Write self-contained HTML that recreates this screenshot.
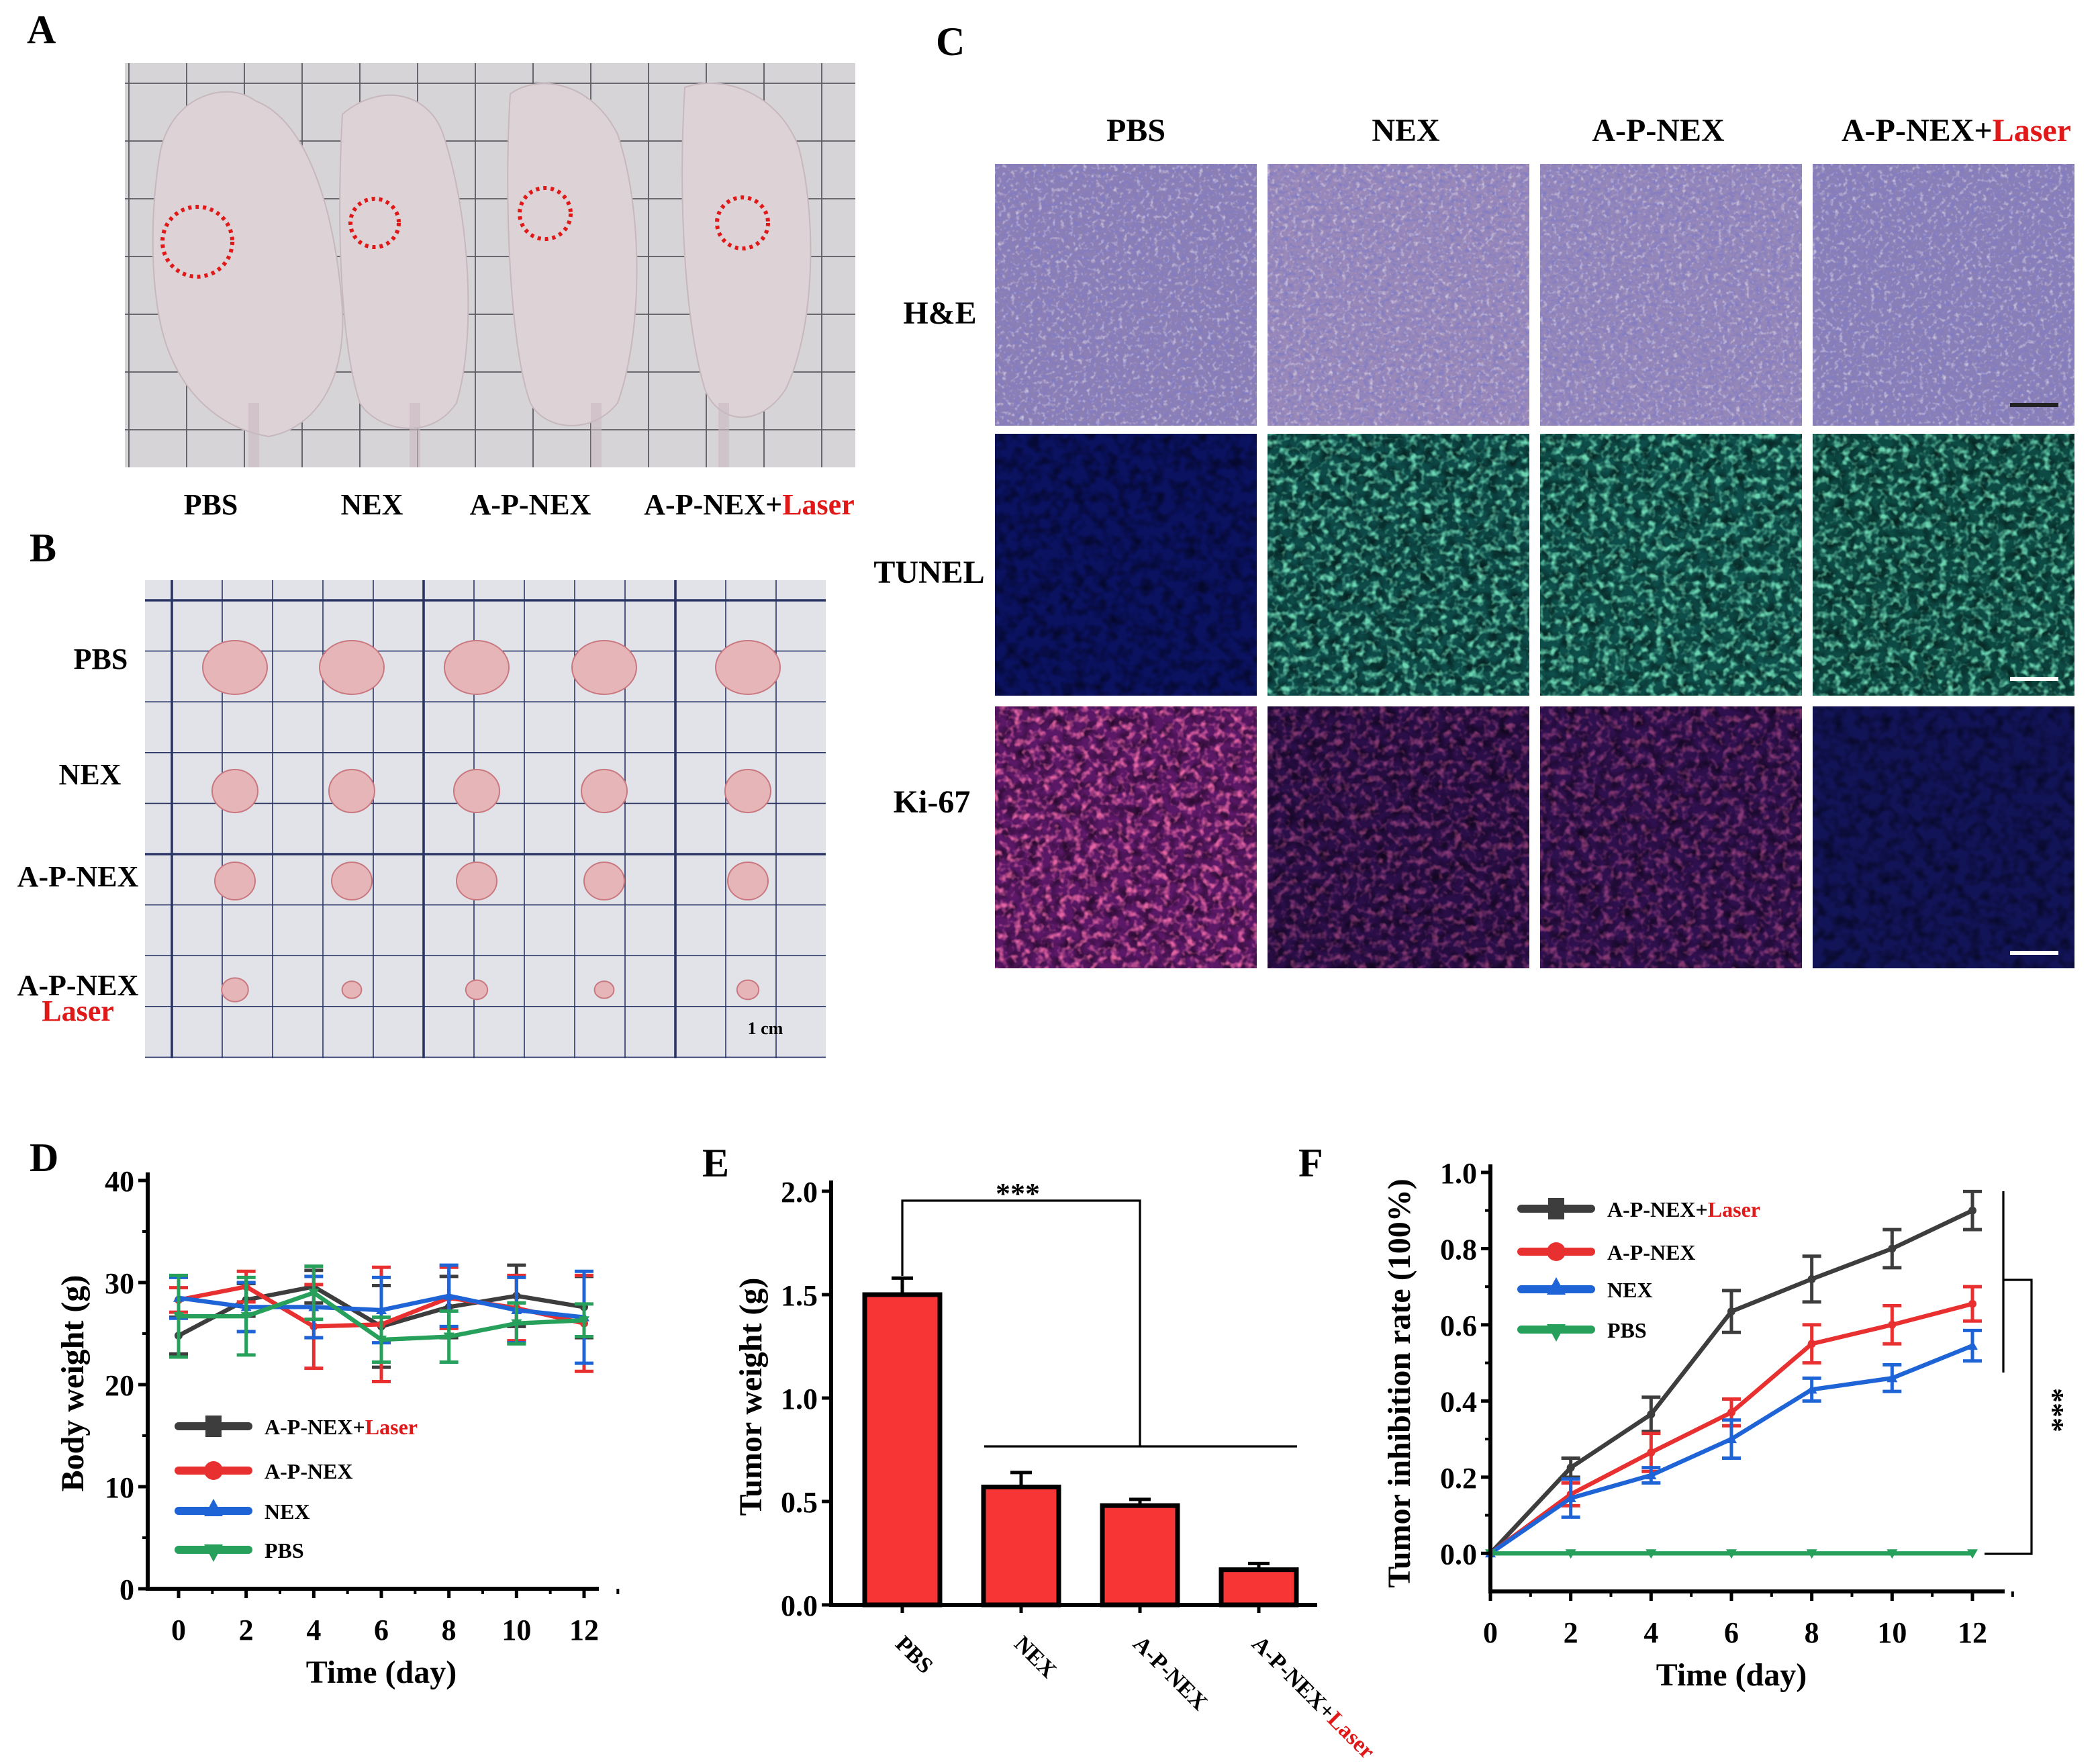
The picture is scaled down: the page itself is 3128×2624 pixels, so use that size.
<!DOCTYPE html>
<html><head><meta charset="utf-8"><style>
html,body{margin:0;padding:0;background:#fff;}
svg{display:block;}
text{font-family:"Liberation Serif",serif;font-weight:bold;}
</style></head><body>
<svg id="fig" width="3128" height="2624" viewBox="0 0 1564 1312" xmlns="http://www.w3.org/2000/svg">
<defs>
<filter id="nHE" x="0" y="0" width="100%" height="100%"><feTurbulence type="fractalNoise" baseFrequency="0.25 0.35" numOctaves="2" seed="3"/><feColorMatrix values="0 0 0 0 0.22  0 0 0 0 0.2  0 0 0 0 0.55  2.2 0 0 0 -0.85"/></filter>
<filter id="nHEl" x="0" y="0" width="100%" height="100%"><feTurbulence type="fractalNoise" baseFrequency="0.3" numOctaves="2" seed="9"/><feColorMatrix values="0 0 0 0 0.9  0 0 0 0 0.85  0 0 0 0 0.9  2.5 0 0 0 -1.35"/></filter>
<filter id="nDot" x="0" y="0" width="100%" height="100%"><feTurbulence type="fractalNoise" baseFrequency="0.12" numOctaves="2" seed="7"/><feColorMatrix values="0 0 0 0 0  0 0 0 0 0  0 0 0 0 0  2 0 0 0 -0.8"/></filter>
<filter id="nGreen" x="0" y="0" width="100%" height="100%"><feTurbulence type="fractalNoise" baseFrequency="0.18" numOctaves="2" seed="11"/><feColorMatrix values="0 0 0 0 0.2  0 0 0 0 0.85  0 0 0 0 0.55  3 0 0 0 -1.4"/></filter>
<filter id="nRed" x="0" y="0" width="100%" height="100%"><feTurbulence type="fractalNoise" baseFrequency="0.18" numOctaves="2" seed="5"/><feColorMatrix values="0 0 0 0 0.9  0 0 0 0 0.15  0 0 0 0 0.4  3 0 0 0 -1.4"/></filter>
</defs>

<text x="20" y="32" font-size="30">A</text>
<text x="22" y="418" font-size="30">B</text>
<text x="697" y="41" font-size="30">C</text>
<text x="22" y="872" font-size="30">D</text>
<text x="523" y="876" font-size="30">E</text>
<text x="967" y="876" font-size="30">F</text>

<g>
<rect x="93" y="47" width="544" height="301" fill="#d6d4d6"/>
<g id="gridA" stroke="#5a5a62" stroke-width="0.9"></g>
<g fill="#ddd2d6" stroke="#c6b8bd" stroke-width="1">
<path d="M120,110 C130,70 170,60 190,75 C230,90 250,160 255,230 C258,290 230,320 200,325 C170,320 140,300 125,260 C110,220 112,150 120,110Z"/>
<path d="M255,85 C285,60 320,70 330,100 C350,160 355,250 340,300 C320,330 280,320 268,300 C255,260 250,180 255,85Z"/>
<path d="M380,70 C400,55 440,60 460,100 C480,160 478,250 460,300 C440,325 405,320 395,300 C380,260 375,150 380,70Z"/>
<path d="M510,65 C540,55 580,70 595,110 C610,170 605,250 585,290 C565,320 535,315 525,290 C510,240 505,150 510,65Z"/>
</g>
<g fill="#c9b9bf" opacity="0.6">
<rect x="185" y="300" width="8" height="48"/><rect x="305" y="300" width="8" height="48"/><rect x="440" y="300" width="8" height="48"/><rect x="535" y="300" width="8" height="48"/>
</g>
<g fill="none" stroke="#e01818" stroke-width="3" stroke-dasharray="2.5 3">
<circle cx="147" cy="180" r="26"/><circle cx="279" cy="166" r="18"/><circle cx="406" cy="159" r="19"/><circle cx="553" cy="166" r="19"/>
</g>
</g>
<g font-size="22" text-anchor="middle">
<text x="157" y="383">PBS</text>
<text x="277" y="383">NEX</text>
<text x="395" y="383">A-P-NEX</text>
<text x="558" y="383">A-P-NEX+<tspan fill="#e01818">Laser</tspan></text>
</g>

<g>
<rect x="108" y="432" width="507" height="356" fill="#e2e3e8"/>
<g id="gridB" stroke="#2a3566"></g>
<g id="tumors" fill="#e6b5b8" stroke="#c97880" stroke-width="1"></g>
<text x="570" y="770" font-size="13" text-anchor="middle">1 cm</text>
</g>
<g font-size="22" text-anchor="middle">
<text x="75" y="498">PBS</text>
<text x="67" y="584">NEX</text>
<text x="58" y="660">A-P-NEX</text>
<text x="58" y="741">A-P-NEX</text>
<text x="58" y="760" fill="#e01818">Laser</text>
</g>

<g font-size="24" text-anchor="middle">
<text x="846" y="105">PBS</text>
<text x="1047" y="105">NEX</text>
<text x="1235" y="105">A-P-NEX</text>
<text x="1457" y="105">A-P-NEX+<tspan fill="#e01818">Laser</tspan></text>
<text x="700" y="241">H&amp;E</text>
<text x="692" y="434">TUNEL</text>
<text x="694" y="605">Ki-67</text>
</g>
<g id="micro"></g>

<g id="chartD"></g>
<g id="chartE"></g>
<g id="chartF"></g>
</svg>
<script>
// ---- Panel D data (body weight) ----
const dDays = [0, 2, 4, 6, 8, 10, 12];
const dLaser = [24.8, 28.3, 29.6, 25.7, 27.6, 28.7, 27.6];
const dLaserErr = [1.8, 1.6, 1.6, 4.0, 3.0, 3.0, 3.0];
const dApnex = [28.3, 29.6, 25.7, 25.9, 28.5, 27.5, 26.0];
const dApnexErr = [1.2, 1.5, 4.1, 5.6, 3.0, 3.2, 4.7];
const dNex = [28.5, 27.6, 27.6, 27.3, 28.7, 27.3, 26.6];
const dNexErr = [2.0, 2.4, 3.0, 3.2, 3.0, 3.2, 4.5];
const dPbs = [26.7, 26.7, 29.0, 24.4, 24.7, 26.0, 26.3];
const dPbsErr = [4.0, 3.8, 2.6, 2.2, 2.5, 2.0, 1.6];
const dYTicks = [0, 10, 20, 30, 40];
// ---- Panel E data (tumor weight) ----
const eGroups = ["PBS", "NEX", "A-P-NEX", "A-P-NEX+"];
const eValues = [1.50, 0.57, 0.48, 0.17];
const eErr = [0.08, 0.07, 0.03, 0.03];
const eYTicks = [0.0, 0.5, 1.0, 1.5, 2.0];
// ---- Panel F data (inhibition rate) ----
const fDays = [0, 2, 4, 6, 8, 10, 12];
const fLaser = [0, 0.225, 0.365, 0.635, 0.72, 0.80, 0.90];
const fLaserErr = [0, 0.025, 0.045, 0.055, 0.06, 0.05, 0.05];
const fApnex = [0, 0.155, 0.265, 0.37, 0.55, 0.60, 0.655];
const fApnexErr = [0, 0.03, 0.05, 0.035, 0.05, 0.05, 0.045];
const fNex = [0, 0.145, 0.205, 0.30, 0.43, 0.46, 0.545];
const fNexErr = [0, 0.05, 0.02, 0.05, 0.03, 0.035, 0.04];
const fPbs = [0, 0, 0, 0, 0, 0, 0];
const fYTicks = [0.0, 0.2, 0.4, 0.6, 0.8, 1.0];

const NS = "http://www.w3.org/2000/svg";
function mk(tag, attrs, parent) {
  const e = document.createElementNS(NS, tag);
  for (const k in attrs) e.setAttribute(k, attrs[k]);
  if (parent) parent.appendChild(e);
  return e;
}
const COL = {black:"#3d3d3d", red:"#e83030", blue:"#1f64d6", green:"#26a05a"};

(function(){
  const gA = document.getElementById('gridA');
  for (let x = 96; x < 637; x += 43) mk('line',{x1:x,y1:47,x2:x,y2:348},gA);
  for (let y = 62; y < 348; y += 43) mk('line',{x1:93,y1:y,x2:637,y2:y},gA);
  const gB = document.getElementById('gridB');
  let i = 0;
  for (let x = 128; x < 615; x += 37.5, i++) mk('line',{x1:x,y1:432,x2:x,y2:788,'stroke-width':(i%5===0)?1.8:0.8},gB);
  i = 0;
  for (let y = 447; y < 788; y += 37.8, i++) mk('line',{x1:108,y1:y,x2:615,y2:y,'stroke-width':(i%5===0||i===5)?1.8:0.8},gB);
  const tg = document.getElementById('tumors');
  const xs = [175, 262, 355, 450, 557];
  const rows = [[497, 24, 20],[589, 17, 16],[656, 15, 14],[737, 9, 8]];
  rows.forEach((r, ri) => xs.forEach((x, ci) => {
    const s = ri===3 ? [1.1,0.8,0.9,0.8,0.9][ci] : 1;
    mk('ellipse',{cx:x,cy:r[0],rx:r[1]*s,ry:r[2]*s},tg);
  }));
})();

(function(){
  const g = document.getElementById('micro');
  const cx = [741, 944, 1147, 1350], cy = [122, 323, 526], w = 195, h = 195;
  const he = ['#8c7fb4','#9a89b8','#9587b8','#8a80b6'];
  const tun = ['#0b1260','#0d4a48','#0e4e4a','#0d4a44'];
  const ki = ['#5a1866','#2a0e48','#2f104e','#121458'];
  cx.forEach((x, c) => {
    mk('rect',{x:x,y:cy[0],width:w,height:h,fill:he[c]},g);
    mk('rect',{x:x,y:cy[0],width:w,height:h,filter:'url(#nHE)'},g);
    mk('rect',{x:x,y:cy[0],width:w,height:h,filter:'url(#nHEl)',opacity:0.7},g);
    mk('rect',{x:x,y:cy[1],width:w,height:h,fill:tun[c]},g);
    mk('rect',{x:x,y:cy[1],width:w,height:h,filter:'url(#nDot)',opacity:0.6},g);
    if (c>0) mk('rect',{x:x,y:cy[1],width:w,height:h,filter:'url(#nGreen)',opacity:0.85},g);
    mk('rect',{x:x,y:cy[2],width:w,height:h,fill:ki[c]},g);
    mk('rect',{x:x,y:cy[2],width:w,height:h,filter:'url(#nDot)',opacity:0.6},g);
    if (c<3) mk('rect',{x:x,y:cy[2],width:w,height:h,filter:'url(#nRed)',opacity:c===0?0.9:0.45},g);
  });
  mk('rect',{x:1497,y:300,width:36,height:3,fill:'#222'},g);
  mk('rect',{x:1497,y:504,width:36,height:3,fill:'#fff'},g);
  mk('rect',{x:1497,y:708,width:36,height:3,fill:'#fff'},g);
})();

function lineChart(gid, days, series, opts) {
  const g = document.getElementById(gid);
  const xS = v => opts.x0 + (v - 0) / 12 * (opts.x12 - opts.x0);
  const yS = v => opts.yBot + (v - opts.yMin) / (opts.yMax - opts.yMin) * (opts.yTop - opts.yBot);
  series.forEach(s => {
    const sg = mk('g',{},g);
    
    
    days.forEach((d, i) => {
      if (!s.err[i]) return;
      const x = xS(d), y1 = yS(s.v[i] + s.err[i]), y2 = yS(s.v[i] - s.err[i]);
      mk('line',{x1:x,y1:y1,x2:x,y2:y2,stroke:s.c,'stroke-width':2.5},sg);
      mk('line',{x1:x-7,y1:y1,x2:x+7,y2:y1,stroke:s.c,'stroke-width':2.5},sg);
      mk('line',{x1:x-7,y1:y2,x2:x+7,y2:y2,stroke:s.c,'stroke-width':2.5},sg);
    });
    const pts = days.map((d, i) => xS(d) + ',' + yS(s.v[i])).join(' ');
    const pl = mk('polyline',{points:pts,fill:'none',stroke:s.c,'stroke-width':3.2},sg);
    
    
    days.forEach((d, i) => {
      const x = xS(d), y = yS(s.v[i]);
      if (s.m === 'tri') mk('path',{d:`M${x-4},${y+3}L${x+4},${y+3}L${x},${y-4}Z`,fill:s.c},sg);
      else if (s.m === 'inv') mk('path',{d:`M${x-4},${y-3}L${x+4},${y-3}L${x},${y+4}Z`,fill:s.c},sg);
      else mk('circle',{cx:x,cy:y,r:3,fill:s.c},sg);
    });
  });
  const ax = mk('g',{},g);
  
  
  mk('line',{x1:opts.axX,y1:yS(opts.yMax)-6,x2:opts.axX,y2:opts.yBot+1.5,stroke:'#000','stroke-width':3},ax);
  mk('line',{x1:opts.axX-1.5,y1:opts.yBot,x2:opts.xEnd,y2:opts.yBot,stroke:'#000','stroke-width':3},ax);
  opts.yTicks.forEach(t => {
    const y = yS(t);
    mk('line',{x1:opts.axX-7,y1:y,x2:opts.axX,y2:y,stroke:'#000','stroke-width':2.5},ax);
    const tx = mk('text',{x:opts.axX-10,y:y+8,'font-size':opts.tickFs,'text-anchor':'end'},ax);
    tx.textContent = opts.fmt(t);
    
    
  });
  for (let k = 0; k < opts.yTicks.length - 1; k++) {
    const y = yS((opts.yTicks[k] + opts.yTicks[k+1]) / 2);
    mk('line',{x1:opts.axX-4,y1:y,x2:opts.axX,y2:y,stroke:'#000','stroke-width':2},ax);
  }
  days.forEach(d => {
    const x = xS(d);
    mk('line',{x1:x,y1:opts.yBot,x2:x,y2:opts.yBot+7,stroke:'#000','stroke-width':2.5},ax);
    mk('line',{x1:x+xS(1)-xS(0),y1:opts.yBot,x2:x+xS(1)-xS(0),y2:opts.yBot+4,stroke:'#000','stroke-width':2},ax);
    const tx = mk('text',{x:x,y:opts.yBot+38,'font-size':opts.tickFs,'text-anchor':'middle'},ax);
    tx.textContent = d;
    
    
  });
  const xt = mk('text',{x:(xS(0)+xS(12))/2,y:opts.yBot+70,'font-size':24,'text-anchor':'middle'},g);
  xt.textContent = 'Time (day)';
  
  
  const yt = mk('text',{x:0,y:0,'font-size':24,'text-anchor':'middle',transform:`translate(${opts.yTitleX},${opts.yTitleY}) rotate(-90)`},g);
  yt.textContent = opts.yTitle;
  
  
  const lg = mk('g',{},g);
  
  
  series.forEach((s, i) => {
    const y = opts.legY[i];
    const le = mk('g',{},lg);
    
    
    mk('line',{x1:opts.legX,y1:y,x2:opts.legX+52,y2:y,stroke:s.c,'stroke-width':6,'stroke-linecap':'round'},le);
    const mx = opts.legX + 26;
    if (s.m === 'sq') mk('rect',{x:mx-6,y:y-8,width:12,height:16,fill:s.c},le);
    else if (s.m === 'circ') mk('circle',{cx:mx,cy:y,r:7,fill:s.c},le);
    else if (s.m === 'tri') mk('path',{d:`M${mx-7},${y+4}L${mx+7},${y+4}L${mx},${y-9}Z`,fill:s.c},le);
    else mk('path',{d:`M${mx-7},${y-4}L${mx+7},${y-4}L${mx},${y+9}Z`,fill:s.c},le);
    const t = mk('text',{x:opts.legX+64,y:y+6,'font-size':16},le);
    t.textContent = s.label;
    if (s.laser) { const ts = mk('tspan',{fill:'#e01818'},t); ts.textContent = 'Laser'; }
  });
}

lineChart('chartD', dDays, [
  {name:'laser', label:'A-P-NEX+', laser:true, v:dLaser, err:dLaserErr, c:COL.black, m:'sq'},
  {name:'apnex', label:'A-P-NEX', v:dApnex, err:dApnexErr, c:COL.red, m:'circ'},
  {name:'nex', label:'NEX', v:dNex, err:dNexErr, c:COL.blue, m:'tri'},
  {name:'pbs', label:'PBS', v:dPbs, err:dPbsErr, c:COL.green, m:'inv'}
], {x0:133, x12:435, axX:110, xEnd:446, yBot:1183, yTop:879, yMin:0, yMax:40, yTicks:dYTicks,
    fmt:t=>String(t), tickFs:22, yTitle:'Body weight (g)', yTitleX:62, yTitleY:1030,
    legX:133, legY:[1062,1095,1125,1154]});

lineChart('chartF', fDays, [
  {name:'laser', label:'A-P-NEX+', laser:true, v:fLaser, err:fLaserErr, c:COL.black, m:'sq'},
  {name:'apnex', label:'A-P-NEX', v:fApnex, err:fApnexErr, c:COL.red, m:'circ'},
  {name:'nex', label:'NEX', v:fNex, err:fNexErr, c:COL.blue, m:'tri'},
  {name:'pbs', label:'PBS', v:fPbs, err:fPbs, c:COL.green, m:'inv'}
], {x0:1110, x12:1469, axX:1110, xEnd:1493, yBot:1185, yTop:873, yMin:-0.1, yMax:1.0, yTicks:fYTicks,
    fmt:t=>t.toFixed(1), tickFs:22, yTitle:'Tumor inhibition rate (100%)', yTitleX:1050, yTitleY:1030,
    legX:1133, legY:[900,932,960,990]});

(function(){
  const g = document.getElementById('chartF');
  const b = mk('g',{stroke:'#000','stroke-width':1.6,fill:'none'},g);
  
  
  mk('line',{x1:1492,y1:887,x2:1492,y2:1022},b);
  mk('polyline',{points:'1492,953 1513,953 1513,1157 1478,1157'},b);
  const t = mk('text',{x:0,y:0,'font-size':22,'text-anchor':'middle',transform:'translate(1522,1050) rotate(90)'},g);
  t.textContent = '***';
  
  
})();

(function(){
  const g = document.getElementById('chartE');
  const axX = 619, yBot = 1195, yTop = 887, x0 = 672, step = 88.5, bw = 56;
  const yS = v => yBot + v / 2.0 * (yTop - yBot);
  const xS = i => x0 + i * step;
  eValues.forEach((v, i) => {
    const x = xS(i);
    const bg = mk('g',{},g);
    
    
    const ye = yS(v + eErr[i]);
    mk('line',{x1:x,y1:ye,x2:x,y2:yS(v),stroke:'#000','stroke-width':2.5},bg);
    mk('line',{x1:x-8,y1:ye,x2:x+8,y2:ye,stroke:'#000','stroke-width':2.5},bg);
    mk('rect',{x:x-bw/2,y:yS(v),width:bw,height:yBot-yS(v),fill:'#f73535',stroke:'#000','stroke-width':3.5},bg);
    mk('line',{x1:x,y1:yBot,x2:x,y2:yBot+6,stroke:'#000','stroke-width':2.5},g);
    const t = mk('text',{x:0,y:0,'font-size':17,transform:`translate(${x-6},${yBot+30}) rotate(45)`},g);
    t.textContent = eGroups[i];
    if (i === 3) { const ts = mk('tspan',{fill:'#e01818'},t); ts.textContent = 'Laser'; }
    
    
  });
  mk('line',{x1:axX,y1:yTop-8,x2:axX,y2:yBot+1.5,stroke:'#000','stroke-width':3},g);
  mk('line',{x1:axX-1.5,y1:yBot,x2:981,y2:yBot,stroke:'#000','stroke-width':3},g);
  eYTicks.forEach(t => {
    const y = yS(t);
    mk('line',{x1:axX-7,y1:y,x2:axX,y2:y,stroke:'#000','stroke-width':2.5},g);
    const tx = mk('text',{x:axX-10,y:y+8,'font-size':22,'text-anchor':'end'},g);
    tx.textContent = t.toFixed(1);
    
    
  });
  const yt = mk('text',{x:0,y:0,'font-size':24,'text-anchor':'middle',transform:'translate(567,1040) rotate(-90)'},g);
  yt.textContent = 'Tumor weight (g)';
  
  
  const b = mk('g',{stroke:'#000','stroke-width':1.6,fill:'none'},g);
  
  
  mk('polyline',{points:'672,950 672,894 849,894 849,1077'},b);
  mk('line',{x1:733,y1:1077,x2:966,y2:1077},b);
  const st = mk('text',{x:758,y:896,'font-size':22,'text-anchor':'middle'},g);
  st.textContent = '***';
  
  
})();
</script>
</body></html>
